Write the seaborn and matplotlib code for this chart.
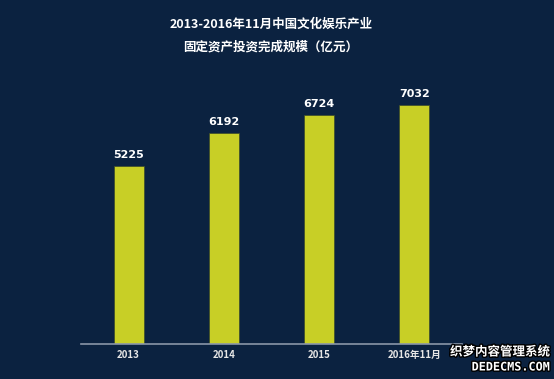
import matplotlib
matplotlib.use("Agg")
import matplotlib.pyplot as plt
import matplotlib.patheffects as pe
import seaborn as sns
import pandas as pd

# data
years = ["2013", "2014", "2015", "2016年11月"]
invest = [5225, 6192, 6724, 7032]

bg = "#0b2240"
bar_color = "#c8cf26"

sns.set_theme(style="dark")
plt.rcParams['font.family'] = ['Noto Sans CJK SC', 'DejaVu Sans']

df = pd.DataFrame({"year": years, "value": invest})

fig = plt.figure(figsize=(5.54, 3.79), dpi=100)
fig.patch.set_facecolor(bg)
ax = fig.add_axes([81 / 554, 1 - 344 / 379, 381 / 554, 272 / 379])
ax.set_facecolor(bg)

sns.barplot(data=df, x="year", y="value", color=bar_color, width=0.315,
            saturation=1, edgecolor="#3a4a2a", linewidth=0.5, ax=ax)

for i, v in enumerate(invest):
    ax.text(i, v + 180, str(v), ha="center", va="bottom", color="white",
            fontsize=8, fontweight="bold", family=['DejaVu Sans'])

ax.set_xlim(-0.5, 3.5)
ax.set_ylim(0, 8000)
ax.set_xlabel("")
ax.set_ylabel("")
ax.set_yticks([])
ax.tick_params(axis="x", colors="#e6e6e6", labelsize=7, length=0, pad=4)
for lbl in ax.get_xticklabels():
    lbl.set_fontweight("bold")
for s in ["top", "left", "right"]:
    ax.spines[s].set_visible(False)
ax.spines["bottom"].set_visible(True)
ax.spines["bottom"].set_color("#8a96a8")
ax.spines["bottom"].set_linewidth(1.2)
ax.grid(False)

fig.text(271 / 554, 1 - 24 / 379, "2013-2016年11月中国文化娱乐产业", ha="center",
         va="center", color="white", fontsize=9, fontweight="bold")
fig.text(271 / 554, 1 - 47 / 379, "固定资产投资完成规模（亿元）", ha="center",
         va="center", color="white", fontsize=9, fontweight="bold")

# site watermark, bottom right
outline = [pe.withStroke(linewidth=2, foreground="black")]
fig.text(550 / 554, 1 - 352 / 379, "织梦内容管理系统", ha="right", va="center",
         color="white", fontsize=9, fontweight="bold", path_effects=outline)
fig.text(550 / 554, 1 - 367 / 379, "DEDECMS.COM", ha="right", va="center",
         color="white", fontsize=8.5, fontweight="bold", path_effects=outline,
         family=['DejaVu Sans Mono'])

fig.savefig("out.png", dpi=100, facecolor=bg)
